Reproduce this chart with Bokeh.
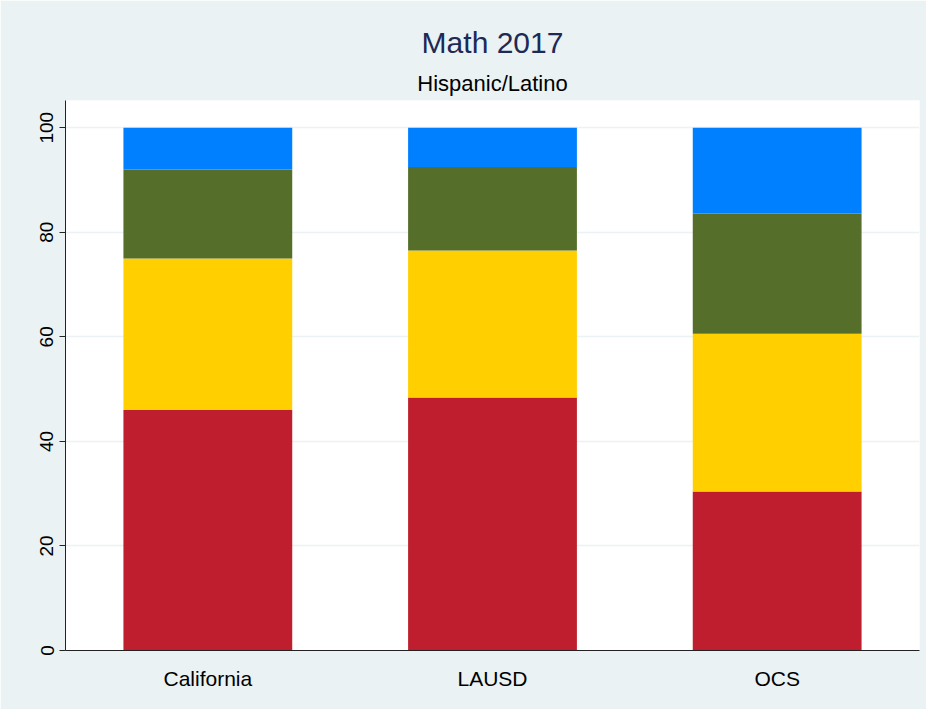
from bokeh.plotting import figure
from bokeh.models import ColumnDataSource, Range1d, FactorRange, FixedTicker, Title
from bokeh.embed import file_html
from bokeh.resources import INLINE

categories = ["California", "LAUSD", "OCS"]
level1 = [46.0, 48.4, 30.4]
level2 = [29.0, 28.1, 30.2]
level3 = [17.0, 16.0, 23.0]
level4 = [8.0, 7.5, 16.4]
series = ["level1", "level2", "level3", "level4"]
colors = ["#BE1E2D", "#FFCF00", "#556F2B", "#0080FF"]
y_ticks = [0, 20, 40, 60, 80, 100]

src = ColumnDataSource(dict(cat=categories, level1=level1, level2=level2,
                            level3=level3, level4=level4))

BG = "#EAF2F3"
FONT = "Liberation Sans"

p = figure(x_range=FactorRange(*categories, range_padding=0),
           y_range=Range1d(0, 105.2),
           width=926, height=709,
           output_backend="svg", toolbar_location=None,
           background_fill_color="white", border_fill_color=BG,
           min_border_left=65, min_border_right=7, min_border_bottom=59,
           min_border_top=100)

p.vbar_stack(series, x="cat", width=0.593, source=src, color=colors,
             line_color=None)

p.add_layout(Title(text="Hispanic/Latino", align="center", text_font=FONT,
                   text_font_size="22px", text_font_style="normal",
                   text_color="black"), "above")
p.add_layout(Title(text="Math 2017", align="center", text_font=FONT,
                   text_font_size="30px", text_font_style="normal",
                   text_color="#1C2A55"), "above")

p.outline_line_color = None
p.xgrid.grid_line_color = None
p.ygrid.grid_line_color = BG
p.ygrid.grid_line_width = 1.5
p.yaxis.ticker = FixedTicker(ticks=y_ticks)
p.yaxis.major_label_orientation = "vertical"
p.yaxis.major_label_text_font = FONT
p.yaxis.major_label_text_font_size = "19px"
p.yaxis.major_label_text_color = "black"
p.yaxis.major_tick_out = 6
p.yaxis.major_tick_in = 0
p.yaxis.minor_tick_line_color = None
p.yaxis.axis_line_color = "#222222"
p.yaxis.major_tick_line_color = "#222222"
p.yaxis.major_label_standoff = 6

p.xaxis.major_label_text_font = FONT
p.xaxis.major_label_text_font_size = "21px"
p.xaxis.major_label_text_color = "black"
p.xaxis.major_tick_line_color = None
p.xaxis.axis_line_color = "#222222"
p.xaxis.major_label_standoff = 10

open("out.html", "w").write(file_html(p, INLINE))
